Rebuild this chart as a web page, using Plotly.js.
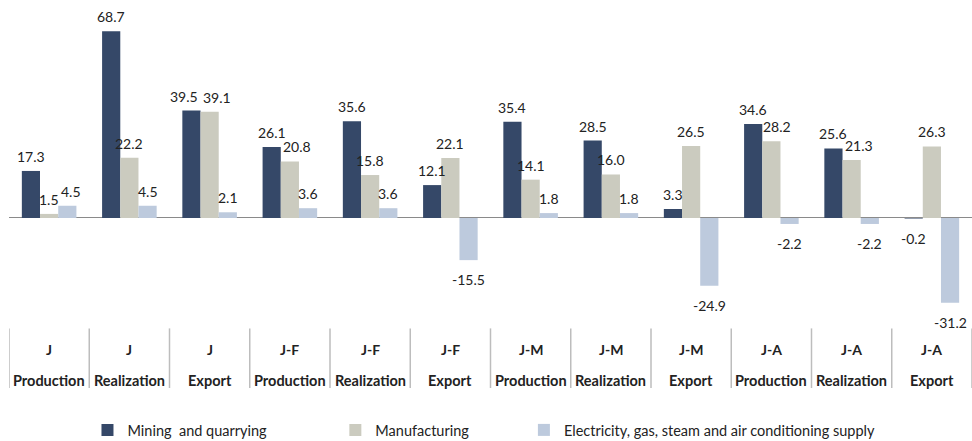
<!DOCTYPE html>
<html>
<head>
<meta charset="utf-8">
<script src="https://cdn.plot.ly/plotly-3.0.1.min.js"></script>
<style>html,body{margin:0;padding:0;background:#fff;}#chart{width:972px;height:441px;}</style>
</head>
<body>
<div id="chart"></div>
<script>
const periods = ['J','J','J','J-F','J-F','J-F','J-M','J-M','J-M','J-A','J-A','J-A'];
const types = ['Production','Realization','Export','Production','Realization','Export','Production','Realization','Export','Production','Realization','Export'];
const seriesNames = ['Mining  and quarrying','Manufacturing','Electricity, gas, steam and air conditioning supply'];
const mining = [17.3, 68.7, 39.5, 26.1, 35.6, 12.1, 35.4, 28.5, 3.3, 34.6, 25.6, -0.2];
const manufacturing = [1.5, 22.2, 39.1, 20.8, 15.8, 22.1, 14.1, 16.0, 26.5, 28.2, 21.3, 26.3];
const electricity = [4.5, 4.5, 2.1, 3.6, 3.6, -15.5, 1.8, 1.8, -24.9, -2.2, -2.2, -31.2];

const colors = ['#354868', '#cbcbbf', '#bdcadd'];
const FONT = 'Lato, "Open Sans", sans-serif';
const idx = periods.map((p, i) => i);

const BARGAP = 0.32;
const barW = (1 - BARGAP) / 3;

// small horizontal nudges (px) for value labels, to keep neighbours apart like the original
const nudge = [
  {2: -7},
  {2: 7, 3: 7, 9: 6, 10: 7},
  {0: 4}
];

const values = [mining, manufacturing, electricity];
const legendIds = ['legend', 'legend2', 'legend3'];
const traces = values.map((v, i) => ({
  type: 'bar',
  name: seriesNames[i],
  x: idx,
  y: v,
  marker: {color: colors[i]},
  legend: legendIds[i],
  hoverinfo: 'y+name'
}));

const annotations = [];
values.forEach((v, s) => {
  v.forEach((d, i) => {
    const pos = d >= 0;
    annotations.push({
      x: i + (s - 1) * barW, y: d, xref: 'x', yref: 'y',
      text: d.toFixed(1), showarrow: false,
      xanchor: 'center', yanchor: pos ? 'bottom' : 'top',
      yshift: pos ? 4 : -9, xshift: (nudge[s][i] || 0),
      font: {family: FONT, size: 14, color: '#222'}
    });
  });
});

const PLOT_H = 320;
const yLab1 = -19 / PLOT_H, yLab2 = -50 / PLOT_H, yDivEnd = -58 / PLOT_H;
idx.forEach(i => {
  annotations.push({x: i, y: yLab1, xref: 'x', yref: 'paper', text: periods[i], showarrow: false,
    xanchor: 'center', yanchor: 'middle', font: {family: FONT, size: 14, color: '#222', weight: 'bold'}});
  annotations.push({x: i, y: yLab2, xref: 'x', yref: 'paper', text: types[i], showarrow: false,
    xanchor: 'center', yanchor: 'middle', font: {family: FONT, size: 14.5, color: '#222', weight: 'bold'}});
});

const shapes = [];
for (let i = 0; i <= idx.length; i++) {
  shapes.push({type: 'line', xref: 'x', yref: 'paper', x0: i - 0.5, x1: i - 0.5, y0: 0.005, y1: yDivEnd,
    line: {color: '#bdbdbd', width: 1.5}});
}

const legendBase = {
  orientation: 'h',
  xref: 'container', yref: 'container',
  yanchor: 'middle', xanchor: 'left',
  font: {family: FONT, size: 14.5, color: '#222'},
  bgcolor: 'rgba(0,0,0,0)'
};

const layout = {
  width: 972, height: 441,
  margin: {l: 9, r: 0, t: 10, b: 111},
  paper_bgcolor: '#fff', plot_bgcolor: '#fff',
  barmode: 'group',
  bargap: BARGAP,
  bargroupgap: 0,
  showlegend: true,
  font: {family: FONT, color: '#222'},
  xaxis: {
    type: 'linear', range: [-0.5, idx.length - 0.5],
    showgrid: false, zeroline: false, showline: false,
    ticks: '', showticklabels: false
  },
  yaxis: {
    range: [-41.2, 76.5],
    showgrid: false, showticklabels: false, ticks: '',
    zeroline: true, zerolinecolor: '#8a8a8a', zerolinewidth: 1,
    showline: false
  },
  annotations: annotations,
  shapes: shapes,
  legend: Object.assign({}, legendBase, {x: 0.09, y: 0.025}),
  legend2: Object.assign({}, legendBase, {x: 0.345, y: 0.025}),
  legend3: Object.assign({}, legendBase, {x: 0.539, y: 0.025})
};

Plotly.newPlot('chart', traces, layout, {displayModeBar: false, staticPlot: true});
</script>
</body>
</html>
